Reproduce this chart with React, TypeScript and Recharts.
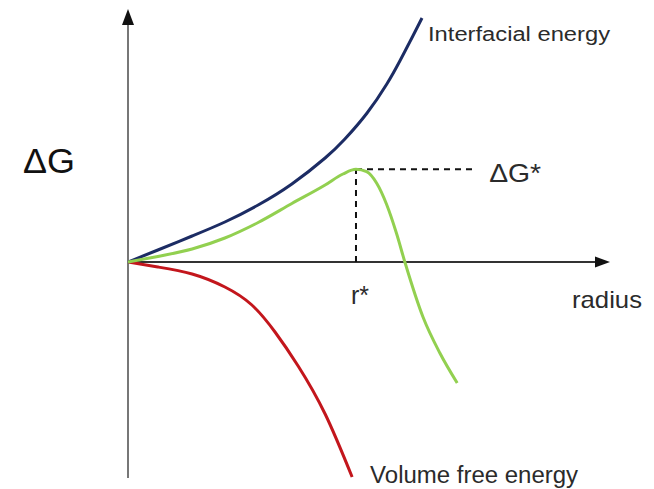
import React from 'react';
import { LineChart, Line, XAxis, YAxis, ReferenceLine, ReferenceDot } from 'recharts';

// schematic units: radius 0..10, ΔG roughly -21.6..25.3
const interfacial = [
  { r: 0, g: 0 },
  { r: 0.62, g: 1.2 },
  { r: 1.33, g: 2.6 },
  { r: 2.01, g: 4.0 },
  { r: 2.7, g: 5.7 },
  { r: 3.4, g: 7.8 },
  { r: 4.09, g: 10.4 },
  { r: 4.5, g: 12.3 },
  { r: 4.96, g: 14.9 },
  { r: 5.37, g: 17.8 },
  { r: 5.64, g: 20.1 },
  { r: 5.91, g: 22.6 },
  { r: 6.1, g: 24.4 },
];

const total = [
  { r: 0, g: 0 },
  { r: 0.62, g: 0.55 },
  { r: 1.33, g: 1.3 },
  { r: 2.01, g: 2.4 },
  { r: 2.7, g: 3.95 },
  { r: 3.4, g: 5.85 },
  { r: 4.09, g: 7.7 },
  { r: 4.46, g: 8.8 },
  { r: 4.73, g: 9.27 },
  { r: 4.95, g: 9.03 },
  { r: 5.16, g: 7.87 },
  { r: 5.37, g: 5.7 },
  { r: 5.57, g: 2.87 },
  { r: 5.75, g: -0.1 },
  { r: 6.12, g: -5.5 },
  { r: 6.47, g: -9.1 },
  { r: 6.83, g: -12.1 },
];

const volume = [
  { r: 0, g: 0 },
  { r: 0.62, g: -0.5 },
  { r: 1.33, g: -1.2 },
  { r: 2.01, g: -2.5 },
  { r: 2.57, g: -4.3 },
  { r: 3.05, g: -7.0 },
  { r: 3.53, g: -10.4 },
  { r: 4.09, g: -15.2 },
  { r: 4.65, g: -21.5 },
];

const rStar = 4.73;
const gStar = 9.27;
const dashEnd = 7.14;
const xDomain = [0, 10];
const yDomain = [-21.6, 25.3];

const FONT = '"Liberation Sans", Arial, sans-serif';

const textLabel = (text: string, dx: number, dy: number, size: number, len: number, fill = '#2b2b2b') => ({
  content: (props: any) => {
    const vb = props.viewBox || { x: 0, y: 0 };
    return (
      <text
        x={vb.x + dx}
        y={vb.y + dy}
        fontSize={size}
        fontFamily={FONT}
        fill={fill}
        textLength={len}
        lengthAdjust="spacingAndGlyphs"
      >
        {text}
      </text>
    );
  },
});

const xArrow = (p: any) => {
  const a = Math.min(p.x1, p.x2);
  const b = Math.max(p.x1, p.x2);
  const y = p.y1;
  return (
    <g>
      <line x1={a} y1={y} x2={b - 12} y2={y} stroke="#333" strokeWidth={2} />
      <polygon points={`${b},${y} ${b - 15},${y - 5.5} ${b - 15},${y + 5.5}`} fill="#111" />
    </g>
  );
};

const yArrow = (p: any) => {
  const top = Math.min(p.y1, p.y2);
  const bottom = Math.max(p.y1, p.y2);
  const x = p.x1;
  return (
    <g>
      <line x1={x} y1={top + 12} x2={x} y2={bottom} stroke="#777" strokeWidth={2} />
      <polygon points={`${x},${top} ${x - 6},${top + 16} ${x + 6},${top + 16}`} fill="#111" />
    </g>
  );
};

export default function App() {
  return (
    <div style={{ position: 'absolute', left: 0, top: 0, background: '#fff' }}>
      <LineChart width={654} height={489} margin={{ top: 9, right: 44, bottom: 11, left: 128 }}>
        <XAxis type="number" dataKey="r" domain={xDomain} hide allowDataOverflow />
        <YAxis type="number" dataKey="g" domain={yDomain} hide allowDataOverflow />

        <ReferenceLine y={0} shape={xArrow} />
        <ReferenceLine x={0} shape={yArrow} />

        <ReferenceLine
          segment={[{ x: rStar, y: 0 }, { x: rStar, y: gStar }]}
          stroke="#111"
          strokeWidth={2}
          strokeDasharray="6 5"
        />
        <ReferenceLine
          segment={[{ x: rStar, y: gStar }, { x: dashEnd, y: gStar }]}
          stroke="#111"
          strokeWidth={2}
          strokeDasharray="6 5"
        />

        <Line data={volume} dataKey="g" type="natural" stroke="#c3161c" strokeWidth={3} dot={false} isAnimationActive={false} />
        <Line data={interfacial} dataKey="g" type="natural" stroke="#1c2c64" strokeWidth={3} dot={false} isAnimationActive={false} />
        <Line data={total} dataKey="g" type="monotone" stroke="#92d050" strokeWidth={3} dot={false} isAnimationActive={false} />

        <ReferenceDot x={0} y={0} r={0} stroke="none" label={textLabel('ΔG', -105, -89, 35, 52, '#111')} />
        <ReferenceDot x={6.1} y={24.4} r={0} stroke="none" label={textLabel('Interfacial energy', 6, 22.5, 20, 182)} />
        <ReferenceDot x={dashEnd} y={gStar} r={0} stroke="none" label={textLabel('ΔG*', 17, 12.6, 25, 52)} />
        <ReferenceDot x={rStar} y={0} r={0} stroke="none" label={textLabel('r*', -5, 42, 25, 18)} />
        <ReferenceDot x={10} y={0} r={0} stroke="none" label={textLabel('radius', -38, 46, 24, 70)} />
        <ReferenceDot x={4.65} y={-21.5} r={0} stroke="none" label={textLabel('Volume free energy', 18, 5.5, 23.5, 208)} />
      </LineChart>
    </div>
  );
}
